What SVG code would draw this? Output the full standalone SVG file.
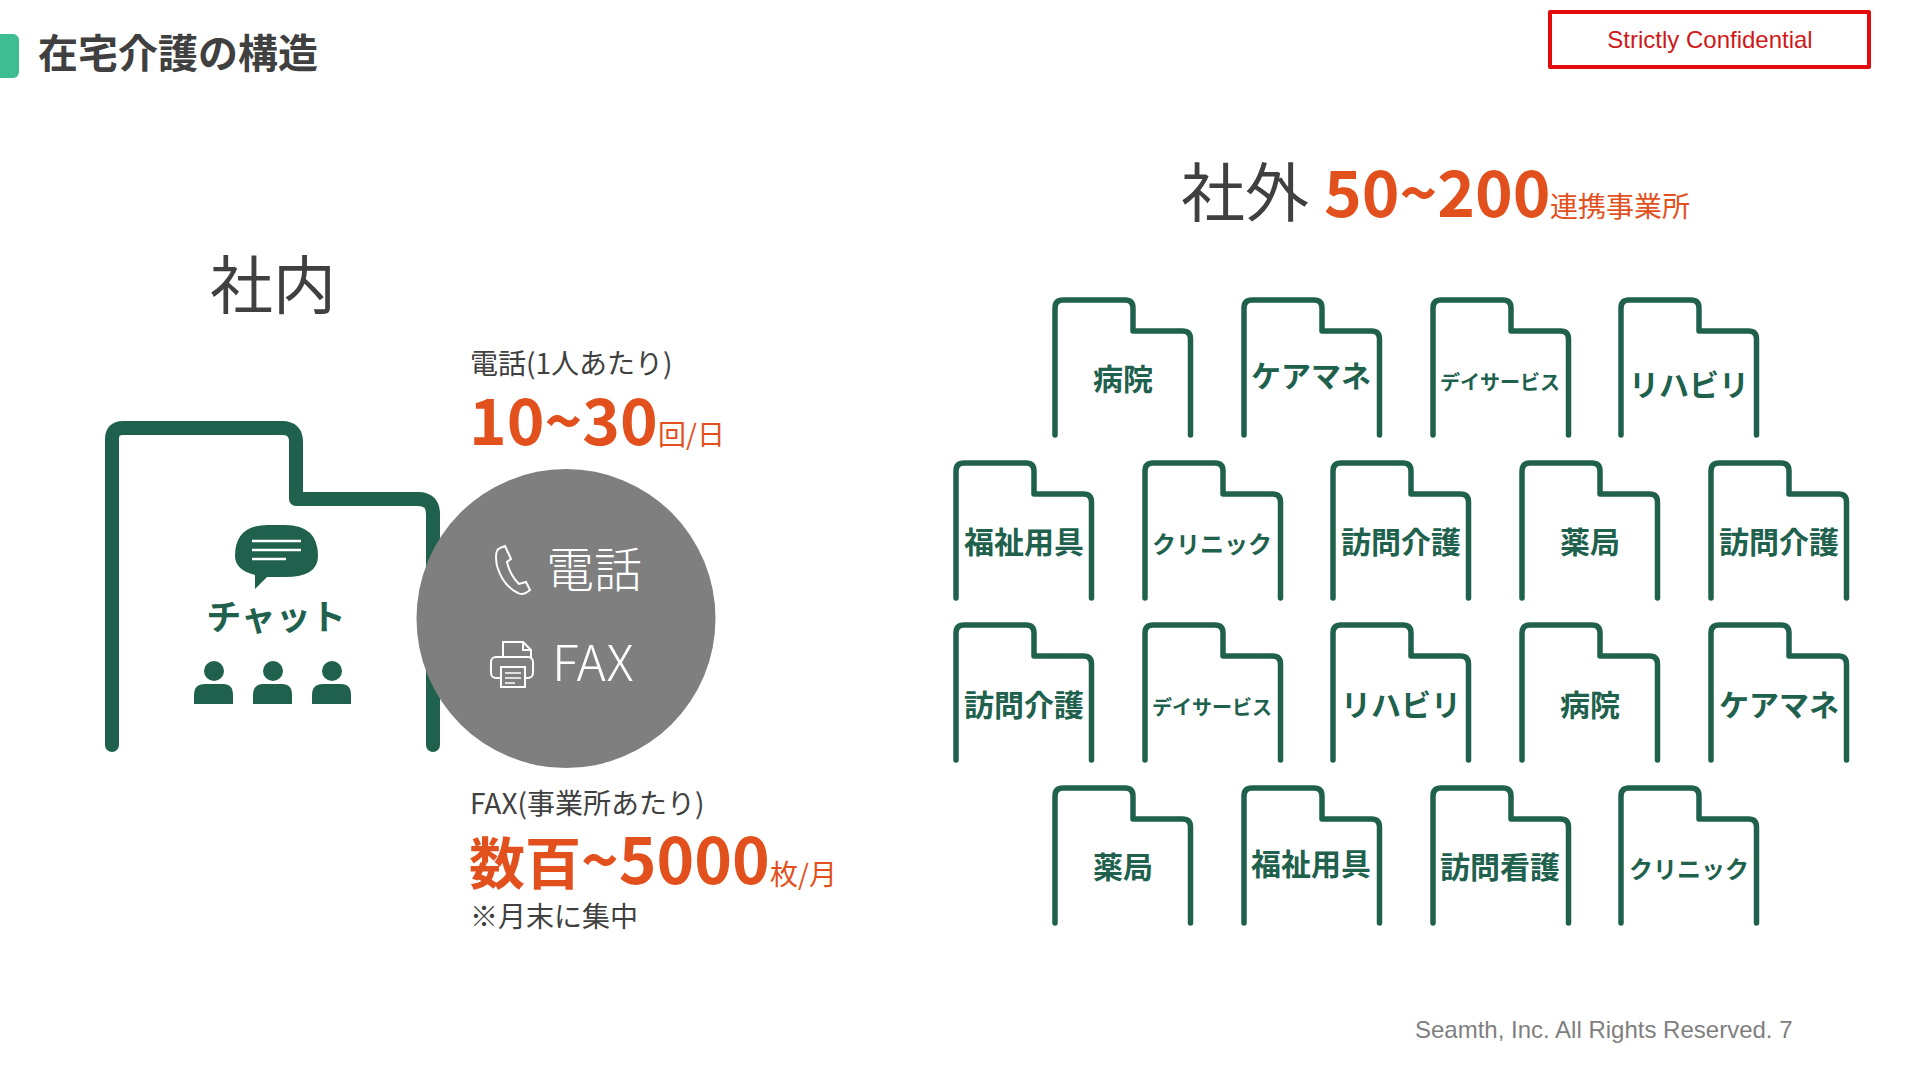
<svg xmlns="http://www.w3.org/2000/svg" width="1920" height="1080" viewBox="0 0 1920 1080">
<style>
text{font-family:"Noto Sans CJK JP","Noto Sans",sans-serif}
.f{fill:none;stroke:#20614d;stroke-width:5.5;stroke-linecap:round;stroke-linejoin:round}
.l{fill:#20614d;font-weight:700;font-size:30px;text-anchor:middle}
.s{font-size:20px}
.m{font-size:24px}
.d{fill:#404040}
.o{fill:#e2511d}
.b{font-weight:700}
.w{fill:#fff}
.i{fill:none;stroke:#fff;stroke-width:2}
</style>
<defs>
<path id="fold" class="f" d="M0 135V8Q0 0 8 0H70Q78 0 78 8V31H127.500Q135.500 31 135.500 39V135"/>
</defs>
<rect width="1920" height="1080" fill="#fff"/>
<g id="title"><rect x="-10" y="34" width="29" height="44" rx="6" fill="#3dbd91"/><text x="38" y="68" font-size="40" font-weight="700" class="d">在宅介護の構造</text></g>
<g id="confidential"><rect x="1550" y="12" width="319" height="55" fill="none" stroke="#e30b0b" stroke-width="4" stroke-linejoin="round"/><text x="1710" y="48" text-anchor="middle" font-size="24" style="font-family:'Liberation Sans',sans-serif" fill="#d01818">Strictly Confidential</text></g>
<g id="footer"><text x="1415" y="1038" font-size="24" style="font-family:'Liberation Sans',sans-serif" fill="#7f7f7f">Seamth, Inc. All Rights Reserved. 7</text></g>
<g id="inside-title"><text x="210" y="308" font-size="63" class="d">社内</text></g>
<g id="inside-folder">
<path d="M112 745V439Q112 428 123 428H282Q296 428 296 442V499H418Q433 499 433 514V745" fill="none" stroke="#20614d" stroke-width="14" stroke-linecap="round" stroke-linejoin="round"/>
<path d="M235 556Q235 525 268 525H285Q318 525 318 556Q318 577 285 577H267L255 589V575Q235 570 235 556Z" fill="#20614d"/>
<path d="M252 541H301M252 550H301M252 559H286" stroke="#fff" stroke-width="2.500"/>
<text x="276" y="630" font-size="35" font-weight="700" fill="#20614d" text-anchor="middle">チャット</text>
<g id="people" fill="#20614d">
<ellipse cx="214" cy="671" rx="10" ry="10"/><path d="M194 704V695Q194 684 205 684H223Q233 684 233 695V704Z"/>
<ellipse cx="273" cy="671" rx="10" ry="10"/><path d="M253 704V695Q253 684 264 684H282Q292 684 292 695V704Z"/>
<ellipse cx="332" cy="671" rx="10" ry="10"/><path d="M312 704V695Q312 684 323 684H341Q351 684 351 695V704Z"/>
</g>
</g>
<g id="circle">
<circle cx="566" cy="618.500" r="149.500" fill="#7f7f7f"/>
<path class="i" d="M500 548Q494 550 497 566Q503 586 518 593Q523 596 530 590L526 582L519 584Q510 575 507 562L511 559L505 546Z" stroke-width="2.500"/>
<text x="546" y="587" font-size="48" class="w" font-weight="300">電話</text>
<g class="i"><path d="M503 658V642H523L531 650V658"/><path d="M523 642V650H531"/><rect x="491" y="657" width="42" height="21" rx="5"/><rect x="501" y="667" width="24" height="20" fill="#7f7f7f"/><path d="M505 673H521M505 678H521M505 683H515" stroke-width="1.500"/></g>
<text x="552" y="681" font-size="50" class="w" font-weight="300">FAX</text>
</g>
<g id="phone-stat">
<text x="470" y="374" font-size="28" class="d">電話(1人あたり)</text>
<text x="469" y="445" font-size="64" class="o b">10~30</text>
<text x="658" y="445" font-size="28" class="o">回/日</text>
</g>
<g id="fax-stat">
<text x="470" y="814" font-size="28" class="d">FAX(事業所あたり)</text>
<text x="469" y="884" class="o b" font-size="64"><tspan font-size="56">数百</tspan>~5000</text>
<text x="770" y="885" font-size="28" class="o">枚/月</text>
<text x="470" y="927" font-size="28" class="d">※月末に集中</text>
</g>
<g id="outside-title">
<text x="1181" y="216" font-size="64" class="d">社外</text>
<text x="1324" y="217" font-size="64" class="o b">50~200</text>
<text x="1550" y="217" font-size="28" class="o">連携事業所</text>
</g>
<g id="n1"><use href="#fold" x="1055" y="300"/><text class="l" x="1123" y="390">病院</text></g>
<g id="n2"><use href="#fold" x="1244" y="300"/><text class="l" x="1311" y="387">ケアマネ</text></g>
<g id="n3"><use href="#fold" x="1433" y="300"/><text class="l s" x="1500" y="390">デイサービス</text></g>
<g id="n4"><use href="#fold" x="1621" y="300"/><text class="l" x="1689" y="396">リハビリ</text></g>
<g id="n5"><use href="#fold" x="956" y="463"/><text class="l" x="1024" y="553">福祉用具</text></g>
<g id="n6"><use href="#fold" x="1145" y="463"/><text class="l m" x="1212" y="553">クリニック</text></g>
<g id="n7"><use href="#fold" x="1333" y="463"/><text class="l" x="1401" y="553">訪問介護</text></g>
<g id="n8"><use href="#fold" x="1522" y="463"/><text class="l" x="1590" y="553">薬局</text></g>
<g id="n9"><use href="#fold" x="1711" y="463"/><text class="l" x="1779" y="553">訪問介護</text></g>
<g id="n10"><use href="#fold" x="956" y="625"/><text class="l" x="1024" y="716">訪問介護</text></g>
<g id="n11"><use href="#fold" x="1145" y="625"/><text class="l s" x="1212" y="715">デイサービス</text></g>
<g id="n12"><use href="#fold" x="1333" y="625"/><text class="l" x="1401" y="716">リハビリ</text></g>
<g id="n13"><use href="#fold" x="1522" y="625"/><text class="l" x="1590" y="716">病院</text></g>
<g id="n14"><use href="#fold" x="1711" y="625"/><text class="l" x="1779" y="716">ケアマネ</text></g>
<g id="n15"><use href="#fold" x="1055" y="788"/><text class="l" x="1123" y="878">薬局</text></g>
<g id="n16"><use href="#fold" x="1244" y="788"/><text class="l" x="1311" y="875">福祉用具</text></g>
<g id="n17"><use href="#fold" x="1433" y="788"/><text class="l" x="1500" y="878">訪問看護</text></g>
<g id="n18"><use href="#fold" x="1621" y="788"/><text class="l m" x="1689" y="878">クリニック</text></g>
</svg>
